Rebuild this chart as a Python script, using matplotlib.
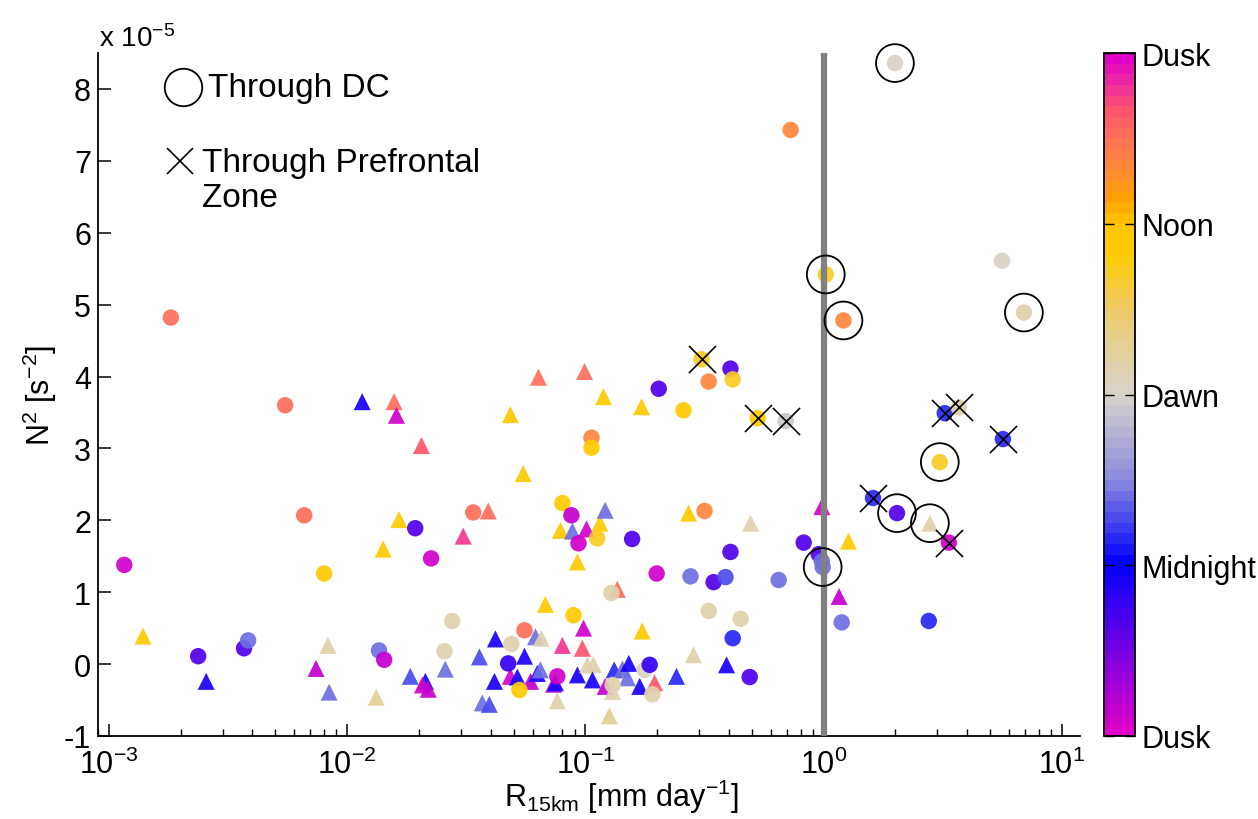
import matplotlib.pyplot as plt
from matplotlib.colors import LinearSegmentedColormap, Normalize
from matplotlib.cm import ScalarMappable

plt.rcParams['font.family'] = ['Liberation Sans', 'DejaVu Sans']
plt.rcParams['mathtext.fontset'] = 'custom'
plt.rcParams['mathtext.rm'] = 'Liberation Sans'
plt.rcParams['mathtext.it'] = 'Liberation Sans:italic'
plt.rcParams['axes.unicode_minus'] = False

# filled circles: rain rate [mm/day], N^2 [1e-5 s^-2], hour after dusk
circ_rain = [0.00116, 0.00182, 0.00549, 0.0066, 0.0080, 0.00237, 0.00369, 0.00384, 0.0136, 0.0143,
             0.0193, 0.0225, 0.0276, 0.0256, 0.0338, 0.0474, 0.0528, 0.0555, 0.0489, 0.0762,
             0.080, 0.0873, 0.0935, 0.112, 0.106, 0.106, 0.0891, 0.1285, 0.130, 0.157,
             0.177, 0.186, 0.191, 0.199, 0.203, 0.258, 0.276, 0.307, 0.329, 0.316,
             0.329, 0.345, 0.387, 0.406, 0.415, 0.406, 0.415, 0.448, 0.489, 0.528,
             0.647, 0.692, 0.726, 0.824, 0.953, 0.982, 0.99, 1.02, 1.19, 1.21,
             1.61, 1.99, 2.03, 2.76, 3.07, 3.22, 3.69, 3.35, 5.60, 5.65, 6.92]
circ_n2 = [1.38, 4.82, 3.60, 2.07, 1.26, 0.11, 0.22, 0.33, 0.19, 0.06,
           1.89, 1.47, 0.60, 0.18, 2.11, 0.01, -0.36, 0.47, 0.28, -0.17,
           2.24, 2.07, 1.68, 1.75, 3.15, 3.01, 0.68, 0.99, -0.29, 1.74,
           -0.08, -0.01, -0.42, 1.26, 3.83, 3.53, 1.22, 4.24, 3.93, 2.13,
           0.74, 1.14, 1.21, 4.11, 3.96, 1.56, 0.36, 0.63, -0.18, 3.42,
           1.17, 3.38, 7.43, 1.69, 1.53, 1.43, 1.35, 5.42, 0.58, 4.78,
           2.31, 8.36, 2.10, 0.60, 2.81, 3.49, 3.57, 1.69, 5.61, 3.13, 4.89]
circ_hour = [0.5, 21, 21, 21, 17.5, 4, 4, 8.5, 8.5, 1,
             4, 0.5, 13, 13, 21, 4.5, 17.5, 21, 13, 0.5,
             17.5, 1, 0.5, 16.3, 20, 17.5, 17.5, 13, 13, 4,
             12, 4.5, 13, 0.5, 4, 17.5, 8.5, 16.3, 20, 20,
             13, 4, 7.5, 4, 16.3, 4, 6.8, 13, 4, 17.5,
             8.5, 11.5, 20, 4, 4, 8.5, 8.5, 16.3, 8.5, 20,
             6.8, 12, 4, 6.8, 16.3, 6.8, 13, 0.5, 12, 6.8, 13]

# filled triangles
tri_rain = [0.00139, 0.00256, 0.0083, 0.0074, 0.0084, 0.01156, 0.01574, 0.0161, 0.0205, 0.0165,
            0.01416, 0.01324, 0.0184, 0.0213, 0.0207, 0.0219, 0.0258, 0.0307, 0.0391, 0.0359,
            0.0369, 0.0395, 0.0419, 0.0415, 0.0484, 0.0548, 0.0484, 0.0518, 0.0555, 0.0588,
            0.0617, 0.0628, 0.0647, 0.0653, 0.0635, 0.0679, 0.0735, 0.0748, 0.0762, 0.0785,
            0.080, 0.0881, 0.0925, 0.0925, 0.0971, 0.0982, 0.0991, 0.101, 0.102, 0.108,
            0.107, 0.115, 0.119, 0.121, 0.121, 0.130, 0.126, 0.132, 0.136, 0.143,
            0.150, 0.152, 0.169, 0.172, 0.173, 0.195, 0.241, 0.271, 0.284, 0.391,
            0.493, 0.982, 1.27, 1.16, 2.79]
tri_n2 = [0.39, -0.24, 0.26, -0.06, -0.39, 3.65, 3.65, 3.46, 3.04, 2.01,
          1.60, -0.46, -0.17, -0.24, -0.29, -0.35, -0.07, 1.78, 2.13, 0.10,
          -0.54, -0.56, 0.35, -0.24, 3.47, 2.65, -0.17, -0.18, 0.11, -0.24,
          0.38, -0.13, -0.08, 0.36, 3.99, 0.83, -0.28, -0.26, -0.51, 1.86,
          0.26, 1.85, 1.42, -0.15, 0.22, 0.50, 4.07, 1.88, -0.01, -0.01,
          -0.22, 1.96, 3.72, 2.14, -0.31, -0.38, -0.72, -0.08, 1.04, -0.07,
          -0.19, 0.01, -0.31, 3.58, 0.46, -0.26, -0.17, 2.10, 0.13, -0.01,
          1.96, 2.19, 1.71, 0.94, 1.96]
tri_hour = [17.5, 5.5, 13, 1, 8.5, 5.5, 21, 0.5, 22, 17.5,
            17.5, 13.5, 7.5, 5.5, 0.5, 1, 8.5, 22.5, 21, 7.5,
            8.5, 7.5, 5.5, 5.5, 17.5, 17.5, 0.5, 5.5, 5.5, 1,
            8.5, 5.5, 8.5, 13, 21, 17.5, 1, 5.5, 13, 17.5,
            22.5, 8.5, 17.5, 5.5, 21.8, 0.5, 21, 0.5, 13, 13,
            5.5, 17.5, 17.5, 8.5, 1, 13, 13.5, 7, 21, 8.5,
            8.5, 5.5, 5.5, 17.5, 17.5, 22, 7, 17.5, 13, 5.5,
            13, 0.5, 17.5, 1, 13]

# soundings through the DC (open rings) and through the prefrontal zone (crosses)
dc_circ = [56, 57, 59, 61, 62, 64, 70]
dc_tri = [74]
pf_circ = [37, 49, 51, 60, 65, 66, 67, 69]

hour_ticks = [0, 6, 12, 18, 24]
hour_labels = ['Dusk', 'Midnight', 'Dawn', 'Noon', 'Dusk']

cmap = LinearSegmentedColormap.from_list('diurnal', [
    (0 / 24, '#E000C8'),
    (6 / 24, '#0000FF'),
    (9 / 24, '#8C8CDC'),
    (12 / 24, '#D8D4CC'),
    (15 / 24, '#EDCB6A'),
    (17 / 24, '#FFCC00'),
    (18 / 24, '#FFC800'),
    (19 / 24, '#FFA000'),
    (20 / 24, '#FF8A35'),
    (21 / 24, '#FF7555'),
    (22 / 24, '#FF5A68'),
    (23 / 24, '#F0309A'),
    (24 / 24, '#E000C8'),
], N=64)
norm = Normalize(0, 24)

W, H = 1258, 820
fig = plt.figure(figsize=(W / 100, H / 100), dpi=100)
ax = fig.add_axes([98 / W, 1 - 737 / H, (1080 - 98) / W, (737 - 54) / H])

ax.scatter(tri_rain, tri_n2, c=tri_hour, cmap=cmap, norm=norm, marker='^', s=150,
           linewidths=0, alpha=0.92, zorder=2)
ax.scatter(circ_rain, circ_n2, c=circ_hour, cmap=cmap, norm=norm, marker='o', s=140,
           linewidths=0, alpha=0.92, zorder=3)
ax.axvline(1.0, color='#808080', lw=4.5, zorder=4)

dc_x = [circ_rain[i] for i in dc_circ] + [tri_rain[i] for i in dc_tri]
dc_y = [circ_n2[i] for i in dc_circ] + [tri_n2[i] for i in dc_tri]
ax.scatter(dc_x, dc_y, s=740, facecolors='none', edgecolors='k', linewidths=1.3,
           zorder=5, clip_on=False)
ax.scatter([circ_rain[i] for i in pf_circ], [circ_n2[i] for i in pf_circ], marker='x',
           s=380, c='k', linewidths=1.2, zorder=5, clip_on=False)

ax.set_xscale('log')
ax.set_xlim(9.0e-4, 11.9)
ax.set_ylim(-1, 8.5)
ax.set_yticks(range(-1, 9))
ax.spines['top'].set_visible(False)
ax.spines['right'].set_visible(False)
for s in ['left', 'bottom']:
    ax.spines[s].set_linewidth(1.3)
ax.tick_params(which='major', direction='in', length=9, width=1.1, labelsize=22, pad=5)
ax.tick_params(which='minor', direction='in', length=5, width=1.0)
ax.tick_params(axis='x', which='major', pad=9)

# marker key in the upper left
ax.plot([0.0866], [0.950], 'o', ms=27, mfc='none', mec='k', mew=1.3,
        transform=ax.transAxes, clip_on=False)
ax.text(0.112, 0.950, 'Through DC', transform=ax.transAxes, fontsize=24, va='center')
ax.plot([0.0835], [0.842], 'x', ms=19, mec='k', mew=1.2,
        transform=ax.transAxes, clip_on=False)
ax.text(0.106, 0.814, 'Through Prefrontal\nZone', transform=ax.transAxes, fontsize=24,
        va='center', linespacing=1.15)

fig.text(99 / W, 1 - 47 / H, r'x 10$^{\mathregular{-5}}$', fontsize=20, va='baseline')
fig.text(621 / W, 1 - 807 / H, r'R$_{\mathregular{15km}}$ [mm day$^{\mathregular{-1}}$]',
         fontsize=22, ha='center', va='baseline')
fig.text(40 / W, 1 - 395 / H, r'N$^{\mathregular{2}}$ [s$^{\mathregular{-2}}$]',
         fontsize=22, rotation=90, ha='center', va='center')

cax = fig.add_axes([1104 / W, 1 - 737 / H, 31 / W, (737 - 54) / H])
cb = fig.colorbar(ScalarMappable(norm=norm, cmap=cmap), cax=cax, ticks=hour_ticks)
cb.ax.set_yticklabels(hour_labels)
cb.outline.set_linewidth(1.3)
cax.tick_params(direction='in', left=True, right=True, length=7, width=1.0,
                labelsize=22, pad=5)

fig.savefig('out.png', dpi=100)
